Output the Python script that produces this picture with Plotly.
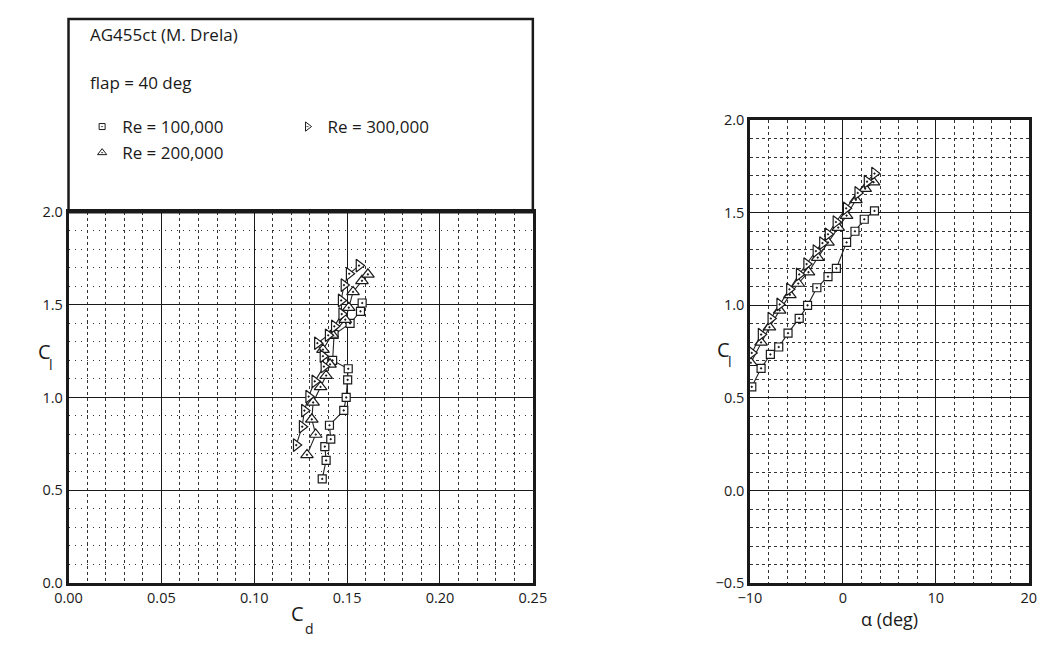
import plotly.graph_objects as go

W, H = 1054, 646

# ---------------- data ----------------
re_labels = ["Re = 100,000", "Re = 200,000", "Re = 300,000"]

cl_100k = [0.56, 0.66, 0.735, 0.775, 0.85, 0.93, 1.00, 1.095, 1.155, 1.20, 1.34, 1.40, 1.465, 1.51]
cd_100k = [0.1366, 0.1387, 0.1380, 0.1412, 0.1405, 0.1482, 0.1495, 0.1503, 0.1506, 0.1422, 0.1430, 0.1516, 0.1572, 0.1581]
al_100k = [-9.8, -8.8, -7.8, -6.9, -5.9, -4.7, -3.8, -2.8, -1.6, -0.7, 0.4, 1.3, 2.3, 3.4]

cl_200k = [0.69, 0.80, 0.882, 0.973, 1.057, 1.118, 1.179, 1.258, 1.34, 1.42, 1.485, 1.57, 1.63, 1.665]
cd_200k = [0.1284, 0.1331, 0.1310, 0.1317, 0.1357, 0.1387, 0.1408, 0.1370, 0.1419, 0.1490, 0.1509, 0.1532, 0.1580, 0.1612]
al_200k = [-9.9, -8.8, -7.9, -6.8, -5.7, -4.8, -3.7, -2.7, -1.6, -0.5, 0.4, 1.4, 2.4, 3.3]

cl_300k = [0.743, 0.842, 0.929, 1.005, 1.087, 1.167, 1.223, 1.293, 1.336, 1.384, 1.45, 1.524, 1.607, 1.668, 1.712]
cd_300k = [0.1226, 0.1258, 0.1270, 0.1293, 0.1326, 0.1375, 0.1370, 0.1340, 0.1398, 0.1431, 0.1471, 0.1468, 0.1483, 0.1511, 0.1564]
al_300k = [-9.8, -8.8, -7.75, -6.8, -5.75, -4.7, -3.9, -2.9, -2.2, -1.6, -0.75, 0.35, 1.6, 2.6, 3.4]

cd_ticks = [0.00, 0.05, 0.10, 0.15, 0.20, 0.25]
cl_ticks = [0.0, 0.5, 1.0, 1.5, 2.0]
cl2_ticks = [-0.5, 0.0, 0.5, 1.0, 1.5, 2.0]
al_ticks = [-10, 0, 10, 20]

# ---------------- helpers ----------------
def px(x):
    return x / W

def py(y):
    return 1 - y / H

FONT = "Open Sans"
INK = "#1a1a1a"

series = [
    (re_labels[0], cd_100k, cl_100k, al_100k, "square-dot", 8, 6, "legend"),
    (re_labels[1], cd_200k, cl_200k, al_200k, "triangle-up-dot", 11, 8, "legend"),
    (re_labels[2], cd_300k, cl_300k, al_300k, "triangle-right-dot", 11, 8, "legend2"),
]

fig = go.Figure()

for name, cd, cl, al, sym, size, lsize, leg in series:
    mk = dict(symbol=sym, size=size, color="white", line=dict(color=INK, width=1.2))
    fig.add_trace(go.Scatter(x=cd, y=cl, mode="lines+markers", xaxis="x", yaxis="y",
                             line=dict(color="#222", width=1.1), marker=mk,
                             showlegend=False, name=name))
    fig.add_trace(go.Scatter(x=al, y=cl, mode="lines+markers", xaxis="x2", yaxis="y2",
                             line=dict(color="#222", width=1.1), marker=mk,
                             showlegend=False, name=name))
for i, (name, cd, cl, al, sym, size, lsize, leg) in enumerate(series):
    fig.add_trace(go.Scatter(x=[None], y=[None], mode="markers", name=name,
                             marker=dict(symbol=sym, size=lsize, color="white",
                                         line=dict(color=INK, width=1)),
                             legend=leg, legendgroup=str(i), showlegend=True))

axis_common = dict(showline=True, mirror=True, linecolor=INK, linewidth=2.5,
                   ticks="", zeroline=False, showgrid=True, gridcolor=INK, gridwidth=1,
                   tickfont=dict(family=FONT, size=14.5, color=INK), fixedrange=True)

fig.update_layout(
    width=W, height=H,
    margin=dict(l=0, r=0, t=0, b=0),
    paper_bgcolor="white", plot_bgcolor="white",
    font=dict(family=FONT, color=INK),
    xaxis=dict(domain=[px(56), px(533)], range=[0, 0.25], tickvals=cd_ticks,
               tickformat=".2f", anchor="y",
               minor=dict(dtick=0.01, showgrid=True, griddash="3px,3px",
                          gridcolor="#333", gridwidth=1),
               **axis_common),
    yaxis=dict(domain=[py(590), py(208.4)], range=[0, 2.0], tickvals=cl_ticks,
               tickformat=".1f", anchor="x",
               minor=dict(dtick=0.1, showgrid=True, griddash="1px,5px",
                          gridcolor="#333", gridwidth=1),
               **axis_common),
    xaxis2=dict(domain=[px(756), px(1042.5)], range=[-10, 20], tickvals=al_ticks,
                anchor="y2",
                minor=dict(dtick=2, showgrid=True, griddash="3px,3px",
                           gridcolor="#333", gridwidth=1),
                **axis_common),
    yaxis2=dict(domain=[py(590.5), py(113.5)], range=[-0.5, 2.0], tickvals=cl2_ticks,
                tickformat=".1f", anchor="x2",
                minor=dict(dtick=0.1, showgrid=True, griddash="3px,3px",
                           gridcolor="#333", gridwidth=1),
                **axis_common),
    legend=dict(x=px(70), y=py(102), xanchor="left", yanchor="top",
                bgcolor="rgba(0,0,0,0)", borderwidth=0,
                font=dict(family=FONT, size=17, color=INK), tracegroupgap=1),
    legend2=dict(x=px(281), y=py(102), xanchor="left", yanchor="top",
                 bgcolor="rgba(0,0,0,0)", borderwidth=0,
                 font=dict(family=FONT, size=17, color=INK)),
    shapes=[dict(type="rect", xref="paper", yref="paper",
                 x0=px(56), x1=px(533), y0=py(208.4), y1=py(9.3),
                 line=dict(color=INK, width=2.5), fillcolor="rgba(0,0,0,0)")],
)

def ann(text, x, y, size, xanchor="center"):
    fig.add_annotation(text=text, x=px(x), y=py(y), xref="paper", yref="paper",
                       showarrow=False, xanchor=xanchor, yanchor="middle",
                       font=dict(family=FONT, size=size, color=INK))

ann("AG455ct (M. Drela)", 76, 25, 17, "left")
ann("flap = 40 deg", 76, 75, 17, "left")
# axis titles
ann("C", 291, 622, 20)
ann("d", 304, 637, 14)
ann("C", 31, 352, 20)
ann("l", 38, 365, 14)
ann("C", 729, 350, 20)
ann("l", 736, 362, 14)
ann("\u03b1 (deg)", 899, 627, 18)

fig.write_html("out.html", config={"displayModeBar": False},
               post_script="document.body.style.margin='0';document.body.style.overflow='hidden';")
